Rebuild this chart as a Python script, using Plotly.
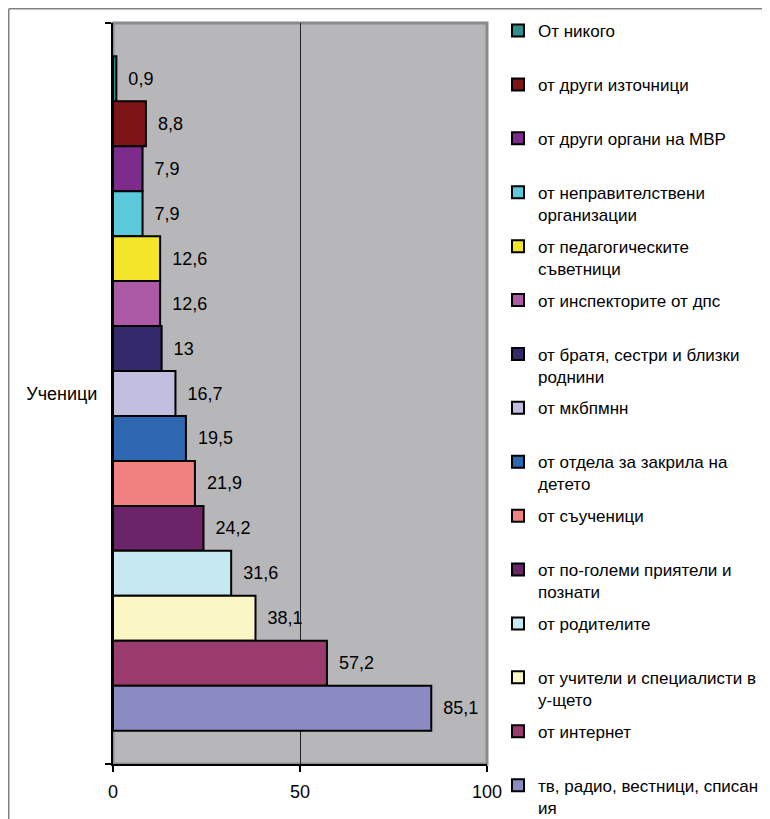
import plotly.graph_objects as go

# ---- data (top bar first) ----
category = "Ученици"
series_names = [
    "От никого",
    "от други източници",
    "от други органи на МВР",
    "от неправителствени<br>организации",
    "от педагогическите<br>съветници",
    "от инспекторите от дпс",
    "от братя, сестри и близки<br>роднини",
    "от мкбпмнн",
    "от отдела за закрила на<br>детето",
    "от съученици",
    "от по-големи приятели и<br>познати",
    "от родителите",
    "от учители и специалисти в<br>у-щето",
    "от интернет",
    "тв, радио, вестници, списан<br>ия",
]
values = [0.9, 8.8, 7.9, 7.9, 12.6, 12.6, 13, 16.7, 19.5, 21.9, 24.2, 31.6, 38.1, 57.2, 85.1]
colors = [
    "#2F8F8F", "#7D1517", "#7E2B8E", "#5BC8DB", "#F3E62A",
    "#AC59A6", "#33296B", "#C1BEDF", "#2D68B0", "#F28282",
    "#6B2467", "#C6E8F1", "#FAF7C4", "#993B6C", "#8A8BC3",
]
x_ticks = [0, 50, 100]

# ---- layout geometry (screen pixels; page body adds an 8px offset) ----
OFF = 8
W, H = 770, 819
L, R = 113 - OFF, 487 - OFF      # plot area left/right (figure px)
T, B = 23 - OFF, 764 - OFF       # plot area top/bottom (figure px)
FONT = "Arial, Liberation Sans, sans-serif"
FS = 18
FS_LEG = 17


def px_x(px):
    return (px - L) / (R - L)


def px_y(py):
    return (B - py) / (B - T)


fig = go.Figure()
legend_first_center = 32 - OFF
legend_step = 53.9
legend_offset = 19

for i, (name, val, col) in enumerate(zip(series_names, values, colors)):
    lg = "legend" if i == 0 else f"legend{i + 1}"
    fig.add_trace(go.Bar(
        y=[category], x=[val], name=name, orientation="h",
        marker=dict(color=col, line=dict(color="black", width=2)),
        text=["\u2002" + str(val).replace(".", ",")],
        textposition="outside", cliponaxis=False, constraintext="none",
        textfont=dict(family=FONT, size=FS, color="black"),
        legend=lg, showlegend=True,
    ))
    ypix = legend_first_center + i * legend_step - legend_offset
    fig.update_layout({lg: dict(
        x=px_x(490), xanchor="left", y=px_y(ypix), yanchor="top",
        bgcolor="rgba(0,0,0,0)", borderwidth=0, valign="top",
        font=dict(family=FONT, size=FS_LEG, color="black"), itemwidth=30,
    )})

shapes = [
    # plot area border (gray)
    dict(type="rect", xref="paper", yref="paper", x0=0, x1=1, y0=0, y1=1,
         line=dict(color="#8A8A8A", width=3), layer="below"),
    # outer chart frame (cropped)
    dict(type="line", xref="paper", yref="paper", x0=px_x(0.75), x1=px_x(W + 2),
         y0=px_y(0.75), y1=px_y(0.75), line=dict(color="#808080", width=1.5)),
    dict(type="line", xref="paper", yref="paper", x0=px_x(0.75), x1=px_x(0.75),
         y0=px_y(0.75), y1=px_y(H + 2), line=dict(color="#808080", width=1.5)),
]

fig.update_layout(
    width=W, height=H,
    margin=dict(l=L, r=W - R, t=T, b=H - B, autoexpand=False),
    paper_bgcolor="white", plot_bgcolor="#B7B7BA",
    barmode="group", bargap=0.09, bargroupgap=0,
    font=dict(family=FONT, size=FS, color="black"),
    shapes=shapes,
    xaxis=dict(range=[0, 100], tickvals=x_ticks, ticktext=[str(t) for t in x_ticks],
               showgrid=True, gridcolor="#222222", gridwidth=1,
               zeroline=False, showline=True, linecolor="black", linewidth=2,
               ticks="outside", ticklen=6, tickcolor="black", tickwidth=1.5,
               ticklabelstandoff=4,
               tickfont=dict(family=FONT, size=FS, color="black"), fixedrange=True),
    yaxis=dict(autorange="reversed", showline=True, linecolor="black", linewidth=2,
               ticks="outside", tickson="boundaries", ticklen=6, tickcolor="black",
               tickwidth=1.5, showgrid=False, zeroline=False, ticklabelstandoff=10,
               tickfont=dict(family=FONT, size=FS, color="black"), fixedrange=True),
)

fig.write_html("out.html")
